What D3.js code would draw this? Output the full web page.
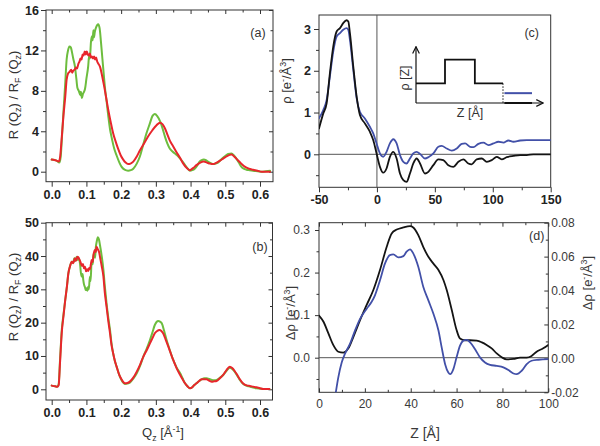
<!DOCTYPE html>
<html><head><meta charset="utf-8">
<script src="https://cdn.jsdelivr.net/npm/d3@7"></script>
<style>body{margin:0;background:#fff}svg{display:block}</style>
</head><body>
<svg id="chart" width="600" height="446"></svg>
<script>
// ---------------- DATA ----------------
// Panel (a): R(Qz)/RF(Qz) vs Qz  [Q, value]
const aGreen = [[0,1.2],[0.014,1.1],[0.022,0.9],[0.026,1.5],[0.029,3.1],[0.034,6.0],[0.039,8.75],[0.043,11.1],[0.047,12.0],[0.051,12.4],[0.055,12.3],[0.058,11.9],[0.062,11.2],[0.067,10.4],[0.071,9.2],[0.074,8.3],[0.078,8.0],[0.082,7.6],[0.084,7.9],[0.087,7.3],[0.09,7.7],[0.093,7.9],[0.096,8.2],[0.1,9.2],[0.105,10.4],[0.108,11.5],[0.11,11.2],[0.113,12.8],[0.116,13.4],[0.118,13.0],[0.12,14.0],[0.122,13.3],[0.124,13.8],[0.127,14.2],[0.131,14.5],[0.134,14.6],[0.138,14.2],[0.142,12.8],[0.146,11.2],[0.15,9.6],[0.155,7.8],[0.158,7.0],[0.163,5.5],[0.168,4.2],[0.172,3.5],[0.18,2.3],[0.187,1.6],[0.195,0.9],[0.201,0.5],[0.21,0.2],[0.22,0.1],[0.228,0.15],[0.235,0.3],[0.245,0.8],[0.254,1.5],[0.263,2.6],[0.273,3.8],[0.283,4.8],[0.29,5.5],[0.297,5.7],[0.304,5.5],[0.312,5.0],[0.32,4.2],[0.326,3.5],[0.333,2.8],[0.34,2.3],[0.348,2.0],[0.355,1.8],[0.362,1.6],[0.37,1.3],[0.377,1.0],[0.384,0.65],[0.392,0.3],[0.398,0.1],[0.405,0.15],[0.412,0.3],[0.42,0.65],[0.426,1.0],[0.432,1.15],[0.438,1.2],[0.444,1.15],[0.45,1.0],[0.458,0.85],[0.465,0.75],[0.472,0.8],[0.479,0.9],[0.488,1.2],[0.498,1.5],[0.508,1.75],[0.518,1.8],[0.525,1.6],[0.532,1.3],[0.539,0.9],[0.546,0.5],[0.553,0.3],[0.561,0.2],[0.57,0.15],[0.58,0.1],[0.593,0.05],[0.605,0.0],[0.617,0.05],[0.629,0.1]];
const aRed = [[0,1.2],[0.014,1.1],[0.02,1.0],[0.024,1.4],[0.029,3.4],[0.034,5.6],[0.039,7.4],[0.043,9.1],[0.047,9.7],[0.052,9.9],[0.056,10.1],[0.059,9.8],[0.062,10.0],[0.066,10.1],[0.07,10.3],[0.073,10.2],[0.077,10.7],[0.08,10.9],[0.083,11.2],[0.086,11.1],[0.089,11.6],[0.092,11.5],[0.095,11.9],[0.098,11.6],[0.101,11.9],[0.104,11.6],[0.107,11.5],[0.11,11.7],[0.113,11.3],[0.116,11.4],[0.119,11.2],[0.122,11.4],[0.125,11.1],[0.128,11.3],[0.131,10.9],[0.134,10.7],[0.139,10.4],[0.144,9.7],[0.148,9.0],[0.153,8.1],[0.158,7.1],[0.163,6.1],[0.17,4.9],[0.177,3.8],[0.185,2.9],[0.192,2.2],[0.199,1.6],[0.206,1.2],[0.213,0.9],[0.22,0.75],[0.227,0.8],[0.235,1.0],[0.245,1.5],[0.254,2.1],[0.266,2.8],[0.278,3.5],[0.29,4.1],[0.302,4.6],[0.312,4.85],[0.319,4.7],[0.326,4.3],[0.333,3.7],[0.34,3.1],[0.35,2.5],[0.36,1.9],[0.37,1.35],[0.379,0.8],[0.388,0.4],[0.398,0.15],[0.407,0.35],[0.417,0.65],[0.428,0.9],[0.438,1.0],[0.447,0.9],[0.456,0.8],[0.465,0.75],[0.475,0.9],[0.485,1.1],[0.494,1.3],[0.505,1.55],[0.518,1.7],[0.527,1.45],[0.537,1.1],[0.546,0.8],[0.556,0.5],[0.568,0.3],[0.58,0.2],[0.593,0.1],[0.605,0.0],[0.617,0.0],[0.629,0.0]];

// Panel (b)
const bGreen = [[0,1.1],[0.01,0.9],[0.016,0.8],[0.02,1.5],[0.024,8.8],[0.029,17.8],[0.034,22.5],[0.039,26.8],[0.044,31],[0.048,34.8],[0.053,37],[0.058,38.3],[0.062,38.0],[0.065,39.3],[0.068,38.5],[0.072,39.8],[0.075,38.8],[0.078,39.3],[0.082,37.3],[0.084,35.0],[0.087,33.8],[0.089,34.6],[0.091,32.8],[0.093,31.5],[0.096,30.6],[0.098,29.8],[0.101,30.3],[0.103,29.6],[0.105,30.8],[0.107,30.0],[0.11,33.8],[0.112,32.5],[0.115,38.3],[0.118,37.5],[0.12,40.0],[0.122,40.8],[0.125,39.5],[0.127,42.5],[0.13,44.5],[0.133,45.6],[0.136,45.0],[0.139,43.3],[0.144,40.0],[0.149,35.8],[0.153,31.0],[0.158,25.8],[0.163,21.5],[0.168,17.8],[0.172,14.0],[0.177,10.8],[0.182,8.5],[0.187,6.8],[0.194,4.5],[0.201,2.8],[0.206,2.0],[0.211,1.6],[0.218,1.7],[0.225,2.0],[0.235,3.2],[0.245,4.8],[0.255,7.2],[0.264,9.8],[0.274,12.3],[0.283,14.8],[0.29,17.0],[0.297,19.3],[0.302,20.2],[0.307,20.5],[0.312,20.3],[0.317,19.8],[0.324,17.5],[0.331,14.8],[0.34,11.8],[0.35,8.8],[0.36,6.5],[0.37,4.8],[0.377,3.3],[0.384,1.8],[0.391,0.9],[0.398,0.3],[0.405,0.6],[0.41,1.2],[0.417,1.8],[0.425,2.5],[0.432,3.0],[0.44,3.3],[0.446,3.3],[0.454,3.1],[0.461,2.8],[0.468,2.7],[0.475,2.8],[0.485,3.5],[0.494,4.3],[0.503,5.5],[0.513,6.5],[0.52,6.1],[0.527,5.3],[0.535,4.0],[0.542,2.8],[0.549,1.9],[0.556,1.3],[0.564,1.0],[0.571,0.8],[0.58,0.5],[0.59,0.3],[0.6,0.2],[0.61,0.1],[0.627,0.1]];
const bRed = [[0,1.1],[0.01,0.9],[0.016,0.8],[0.02,1.2],[0.024,8.0],[0.029,17.0],[0.034,22.0],[0.039,26.8],[0.044,31],[0.048,34.8],[0.053,37],[0.058,38.3],[0.062,37.8],[0.067,39.3],[0.07,38.6],[0.074,39.8],[0.077,39.6],[0.08,38.9],[0.083,38.2],[0.087,37.0],[0.09,37.6],[0.093,36.3],[0.096,36.8],[0.099,35.4],[0.102,36.0],[0.105,35.5],[0.108,36.4],[0.11,36.0],[0.113,37.6],[0.115,38.8],[0.118,38.2],[0.12,40.0],[0.124,41.8],[0.127,41.2],[0.129,42.8],[0.132,42.2],[0.134,41.8],[0.137,41.0],[0.139,39.8],[0.144,37.0],[0.149,33.8],[0.153,29.0],[0.158,24.8],[0.163,20.5],[0.168,16.8],[0.172,13.5],[0.177,10.8],[0.182,8.5],[0.187,6.8],[0.194,4.5],[0.201,3.0],[0.206,2.2],[0.211,1.8],[0.218,1.9],[0.225,2.3],[0.235,3.5],[0.245,5.3],[0.255,7.5],[0.264,9.8],[0.274,11.8],[0.283,13.8],[0.29,15.3],[0.297,16.8],[0.304,17.5],[0.31,17.8],[0.316,17.5],[0.321,16.8],[0.328,15.0],[0.336,12.8],[0.343,10.8],[0.35,8.8],[0.36,6.3],[0.37,4.3],[0.377,3.0],[0.384,1.8],[0.391,0.9],[0.398,0.3],[0.405,0.6],[0.41,1.2],[0.417,1.8],[0.425,2.5],[0.432,3.0],[0.44,3.0],[0.446,3.0],[0.454,2.6],[0.461,2.3],[0.468,2.4],[0.475,2.5],[0.485,3.4],[0.494,4.3],[0.503,5.7],[0.513,6.8],[0.52,6.4],[0.527,5.5],[0.535,4.2],[0.542,3.0],[0.549,2.0],[0.556,1.4],[0.564,1.1],[0.571,1.0],[0.58,0.8],[0.59,0.6],[0.6,0.3],[0.61,0.1],[0.627,0.1]];

// Panel (c): rho(Z)
const cBlack = [[-50,0.62],[-46.3,0.98],[-43.4,1.22],[-40.6,1.94],[-37.7,2.58],[-34.8,2.94],[-31.9,3.02],[-29.1,3.14],[-26.2,3.21],[-24.7,3.18],[-23.3,2.9],[-20.4,2.1],[-17.5,1.38],[-14.7,0.94],[-10.4,0.74],[-6.1,0.54],[-3.2,0.34],[-0.3,0.02],[2.6,-0.3],[5.4,-0.44],[8.3,-0.34],[11.2,-0.06],[14.1,0.06],[17.0,-0.1],[19.9,-0.46],[22.8,-0.62],[25.6,-0.66],[28.5,-0.46],[31.4,-0.22],[34.3,-0.1],[37.2,-0.22],[41.5,-0.46],[44.4,-0.42],[48.7,-0.26],[53.0,-0.12],[57.3,-0.14],[61.6,-0.26],[66.0,-0.3],[70.3,-0.18],[74.6,-0.12],[78.9,-0.22],[81.8,-0.24],[86.1,-0.12],[90.5,-0.1],[94.8,-0.18],[99.1,-0.14],[103.4,-0.06],[107.7,-0.12],[112.1,-0.07],[117.8,-0.04],[123.6,-0.02],[129.3,-0.02],[135,0],[150,0]];
const cBlue = [[-50,0.86],[-46.3,1.06],[-43.4,1.3],[-40.6,1.86],[-37.7,2.46],[-34.8,2.82],[-31.9,2.9],[-29.1,2.98],[-26.2,3.02],[-24.7,2.98],[-23.3,2.74],[-20.4,2.02],[-17.5,1.34],[-14.7,1.02],[-10.4,0.86],[-6.1,0.66],[-3.2,0.5],[-0.3,0.26],[2.6,0.02],[5.4,-0.06],[8.3,0.06],[11.2,0.26],[14.1,0.36],[17.0,0.26],[19.9,-0.02],[22.8,-0.18],[25.6,-0.22],[28.5,-0.1],[31.4,0.02],[34.3,0.06],[37.2,0.01],[41.5,-0.1],[44.4,-0.07],[48.7,0.02],[53.0,0.18],[55.9,0.2],[60.2,0.14],[64.6,0.09],[68.9,0.14],[73.2,0.25],[76.1,0.26],[80.4,0.18],[83.3,0.17],[87.6,0.25],[91.9,0.28],[96.3,0.22],[100.6,0.26],[104.9,0.3],[109.2,0.28],[113.5,0.33],[117.8,0.3],[123.6,0.33],[129.3,0.34],[135,0.34],[150,0.34]];

// Panel (d): delta rho(Z); black on left axis, blue on right axis
const dBlack = [[0,0.099],[1.9,0.085],[4.1,0.057],[6.2,0.03],[8.4,0.014],[10.6,0.012],[12.8,0.022],[15,0.049],[17.9,0.088],[20.8,0.124],[23.7,0.159],[26.6,0.206],[29.5,0.26],[31.7,0.292],[33.9,0.301],[36.8,0.306],[39.7,0.309],[41.1,0.306],[43.3,0.288],[45.5,0.26],[47.7,0.237],[49.9,0.221],[52.1,0.206],[54.3,0.182],[55.7,0.159],[57.9,0.112],[60,0.065],[61.5,0.045],[63.7,0.041],[65.9,0.041],[68.8,0.04],[71,0.036],[73.1,0.03],[75.3,0.022],[77.5,0.01],[79.7,0.001],[81.9,-0.004],[84.8,-0.003],[87.7,0],[90.6,0],[92.7,0.004],[94.9,0.014],[97.8,0.022],[100,0.03]];
const dBlue = [[7.0,-0.023],[8.4,-0.0113],[9.9,-0.0024],[11.3,0.0026],[13.5,0.0085],[15.7,0.0164],[17.9,0.0233],[20.8,0.0293],[22.9,0.0332],[24.4,0.0372],[26.6,0.0461],[28.8,0.056],[30.9,0.0609],[32.4,0.0613],[34.6,0.0595],[36.8,0.0603],[38.2,0.0629],[39.7,0.0643],[41.1,0.0619],[43.3,0.054],[45.5,0.0421],[47.7,0.0342],[49.9,0.0263],[52.1,0.0164],[53.5,0.0065],[55,-0.0034],[56.4,-0.0083],[57.2,-0.0093],[58.6,-0.0063],[60,0.0006],[61.5,0.0075],[63,0.0105],[64.4,0.0109],[65.9,0.0095],[68,0.0055],[70.2,0.0006],[72.4,-0.0024],[74.6,-0.0038],[77.5,-0.0044],[80.4,-0.0053],[82.6,-0.0069],[84.8,-0.0089],[86.2,-0.0093],[88.4,-0.0073],[90.6,-0.0034],[92.7,-0.0014],[95.7,-0.0008],[100,-0.0004]];

// Inset schematic in (c) (arbitrary units)
const insetStep = [[0,1],[1,1],[1,2.2],[2.03,2.2],[2.03,1],[3,1]];
const insetDrop = [[3,1],[3,0]];
const insetBlue = [[3.05,0.5],[4,0.5]];
const insetBlack = [[3.05,0],[4,0]];

// Tick values
const qTicks = [0,0.1,0.2,0.3,0.4,0.5,0.6];
const qMinor = [0.05,0.15,0.25,0.35,0.45,0.55];
const aTicks = [0,4,8,12,16], aMinor = [2,6,10,14];
const bTicks = [0,10,20,30,40,50], bMinor = [5,15,25,35,45];
const cXTicks = [-50,0,50,100,150], cXMinor = [-25,25,75,125];
const cYTicks = [0,1,2,3], cYMinor = [-0.5,0.5,1.5,2.5];
const dXTicks = [0,20,40,60,80,100], dXMinor = [10,30,50,70,90];
const dLTicks = [0,0.1,0.2,0.3], dLMinor = [-0.05,0.05,0.15,0.25];
const dRTicks = [-0.02,0,0.02,0.04,0.06,0.08], dRMinor = [-0.01,0.01,0.03,0.05,0.07];

// ---------------- DRAW ----------------
const FONT = "'Liberation Sans', Arial, Helvetica, sans-serif";
const GREEN = "#6dbd3e", RED = "#e8262c", BLACK = "#141414", BLUE = "#4250a8";
const svg = d3.select("#chart");
svg.append("rect").attr("width",600).attr("height",446).attr("fill","#fff");

function styleAxis(g, opts){
  g.select(".domain").remove();
  g.selectAll("line").attr("stroke","#333").attr("stroke-width",1);
  g.selectAll("text").attr("font-family",FONT).attr("font-size",opts.fs||12)
    .attr("font-weight",opts.bold?"bold":"normal").attr("fill",opts.color||"#222");
}
function ax(gen, tr, opts){
  const g = svg.append("g").attr("transform",tr).call(gen);
  styleAxis(g, opts||{});
  return g;
}
function frame(l,r,t,b){
  svg.append("rect").attr("x",l).attr("y",t).attr("width",r-l).attr("height",b-t)
    .attr("fill","none").attr("stroke","#333").attr("stroke-width",1);
}
let clipId = 0;
function clip(l,r,t,b){
  const id = "clip"+(clipId++);
  svg.append("clipPath").attr("id",id).append("rect").attr("x",l).attr("y",t).attr("width",r-l).attr("height",b-t);
  return "url(#"+id+")";
}
function curve(data, x, y, color, w, cp){
  svg.append("path").datum(data).attr("clip-path",cp)
    .attr("d", d3.line().x(d=>x(d[0])).y(d=>y(d[1])).curve(d3.curveMonotoneX))
    .attr("fill","none").attr("stroke",color).attr("stroke-width",w)
    .attr("stroke-linejoin","round").attr("stroke-linecap","round");
}
function rich(sel, parts, size){
  let cur = 0;
  parts.forEach(([t,k])=>{
    const off = k===1 ? size*0.3 : (k===2 ? -size*0.38 : 0);
    sel.append("tspan").attr("dy", off-cur).attr("font-size", k? size*0.68 : size).text(t);
    cur = off;
  });
}
function label(x,y,parts,size,opts){
  opts = opts||{};
  const t = svg.append("text").attr("transform",`translate(${x},${y})`+(opts.rot?" rotate(-90)":""))
    .attr("text-anchor","middle").attr("font-family",FONT).attr("font-size",size)
    .attr("fill",opts.color||"#333").attr("font-weight",opts.bold?"bold":"normal");
  rich(t, parts, size);
  return t;
}
const hy = f => (v => f(v).replace("\u2212","-"));
const f1 = hy(d3.format(".1f")), f2 = hy(d3.format(".2f")), f0 = hy(d3.format("d"));
const none = ()=>"";

// ---- Panel (a)
{
  const L=46,R=273,T=10,B=181.7;
  const x = d3.scaleLinear([0,0.6],[51.7,260]);
  const y = d3.scaleLinear([0,16],[171.7,10]);
  const o = {bold:true,fs:12.5,color:"#222"};
  ax(d3.axisBottom(x).tickValues(qTicks).tickSize(5).tickPadding(3).tickFormat(f1),`translate(0,${B})`,o);
  ax(d3.axisBottom(x).tickValues(qMinor).tickSize(3).tickFormat(none),`translate(0,${B})`);
  ax(d3.axisTop(x).tickValues(qTicks).tickSize(-4).tickFormat(none),`translate(0,${T})`);
  ax(d3.axisTop(x).tickValues(qMinor).tickSize(-2.5).tickFormat(none),`translate(0,${T})`);
  ax(d3.axisLeft(y).tickValues(aTicks).tickSize(5).tickPadding(2).tickFormat(f0),`translate(${L},0)`,o);
  ax(d3.axisLeft(y).tickValues(aMinor).tickSize(3).tickFormat(none),`translate(${L},0)`);
  ax(d3.axisRight(y).tickValues(aTicks).tickSize(-4).tickFormat(none),`translate(${R},0)`);
  ax(d3.axisRight(y).tickValues(aMinor).tickSize(-2.5).tickFormat(none),`translate(${R},0)`);
  frame(L,R,T,B);
  const cp = clip(L,R,T,B);
  curve(aGreen,x,y,GREEN,2,cp);
  curve(aRed,x,y,RED,2,cp);
  label(258,37,[["(a)",0]],12.5);
  label(17.5,95,[["R (Q",0],["z",1],[") / R",0],["F",1],[" (Q",0],["z",1],[")",0]],13,{rot:true});
}
// ---- Panel (b)
{
  const L=46,R=272.5,T=222.7,B=400;
  const x = d3.scaleLinear([0,0.6],[51.7,260]);
  const y = d3.scaleLinear([0,50],[389.3,222.7]);
  const o = {bold:true,fs:12.5,color:"#222"};
  ax(d3.axisBottom(x).tickValues(qTicks).tickSize(5).tickPadding(3).tickFormat(f1),`translate(0,${B})`,o);
  ax(d3.axisBottom(x).tickValues(qMinor).tickSize(3).tickFormat(none),`translate(0,${B})`);
  ax(d3.axisTop(x).tickValues(qTicks).tickSize(-4).tickFormat(none),`translate(0,${T})`);
  ax(d3.axisTop(x).tickValues(qMinor).tickSize(-2.5).tickFormat(none),`translate(0,${T})`);
  ax(d3.axisLeft(y).tickValues(bTicks).tickSize(5).tickPadding(2).tickFormat(f0),`translate(${L},0)`,o);
  ax(d3.axisLeft(y).tickValues(bMinor).tickSize(3).tickFormat(none),`translate(${L},0)`);
  ax(d3.axisRight(y).tickValues(bTicks).tickSize(-4).tickFormat(none),`translate(${R},0)`);
  ax(d3.axisRight(y).tickValues(bMinor).tickSize(-2.5).tickFormat(none),`translate(${R},0)`);
  frame(L,R,T,B);
  const cp = clip(L,R,T,B);
  curve(bGreen,x,y,GREEN,2,cp);
  curve(bRed,x,y,RED,2,cp);
  label(260,251,[["(b)",0]],12.5);
  label(17.5,297,[["R (Q",0],["z",1],[") / R",0],["F",1],[" (Q",0],["z",1],[")",0]],13,{rot:true});
  label(163,437,[["Q",0],["z",1],[" [Å",0],["-1",2],["]",0]],13);
}
// ---- Panel (c)
{
  const L=319,R=550.7,T=15,B=187.3;
  const x = d3.scaleLinear([-50,150],[319,550.7]);
  const y = d3.scaleLinear([0,3],[154.3,29]);
  const o = {bold:true,fs:12.5,color:"#222"};
  ax(d3.axisBottom(x).tickValues(cXTicks).tickSize(5).tickPadding(3).tickFormat(f0),`translate(0,${B})`,o);
  ax(d3.axisBottom(x).tickValues(cXMinor).tickSize(3).tickFormat(none),`translate(0,${B})`);
  ax(d3.axisLeft(y).tickValues(cYTicks).tickSize(5).tickPadding(3).tickFormat(f0),`translate(${L},0)`,o);
  ax(d3.axisLeft(y).tickValues(cYMinor).tickSize(3).tickFormat(none),`translate(${L},0)`);
  frame(L,R,T,B);
  const cp = clip(L,R,T,B);
  svg.append("line").attr("x1",L).attr("x2",R).attr("y1",y(0)).attr("y2",y(0)).attr("stroke","#555").attr("stroke-width",1);
  svg.append("line").attr("x1",x(0)).attr("x2",x(0)).attr("y1",T).attr("y2",B).attr("stroke","#555").attr("stroke-width",1);
  curve(cBlue,x,y,BLUE,1.8,cp);
  curve(cBlack,x,y,BLACK,1.8,cp);
  label(531.7,37,[["(c)",0]],12.5);
  label(291,81,[["ρ [e",0],["-",2],["/Å",0],["3",2],["]",0]],13,{rot:true});
  // inset schematic
  const ix = d3.scaleLinear([0,4.38],[416,543]);
  const iy = d3.scaleLinear([0,2.86],[103,46.7]);
  const ln = d3.line().x(d=>ix(d[0])).y(d=>iy(d[1]));
  svg.append("defs").append("marker").attr("id","arr").attr("viewBox","0 0 10 10").attr("refX",9).attr("refY",5)
    .attr("markerWidth",7).attr("markerHeight",7).attr("orient","auto")
    .append("path").attr("d","M1,1 L9,5 L1,9").attr("fill","none").attr("stroke","#111").attr("stroke-width",1.4);
  svg.append("path").attr("d",ln([[0,0],[0,2.86]])).attr("stroke","#111").attr("stroke-width",1.2).attr("marker-end","url(#arr)");
  svg.append("path").attr("d",ln([[0,0],[4.38,0]])).attr("stroke","#111").attr("stroke-width",1.2).attr("marker-end","url(#arr)");
  svg.append("path").attr("d",ln(insetStep)).attr("fill","none").attr("stroke","#111").attr("stroke-width",1.8);
  svg.append("path").attr("d",ln(insetDrop)).attr("fill","none").attr("stroke","#111").attr("stroke-width",1).attr("stroke-dasharray","1.5,1.5");
  svg.append("path").attr("d",ln(insetBlue)).attr("fill","none").attr("stroke",BLUE).attr("stroke-width",2);
  svg.append("path").attr("d",ln(insetBlack)).attr("fill","none").attr("stroke","#111").attr("stroke-width",2);
  label(409,78,[["ρ [Z]",0]],12.5,{rot:true});
  label(470,117,[["Z [Å]",0]],12.5);
}
// ---- Panel (d)
{
  const L=319,R=548.3,T=222.7,B=392.3;
  const x = d3.scaleLinear([0,100],[319,548.3]);
  const yl = d3.scaleLinear([0,0.3],[357.7,230]);
  const yr = d3.scaleLinear([-0.02,0.08],[392.3,222.7]);
  const o = {bold:false,fs:12,color:"#3a3a3a"};
  ax(d3.axisBottom(x).tickValues(dXTicks).tickSize(-4).tickPadding(7).tickFormat(f0),`translate(0,${B})`,o);
  ax(d3.axisBottom(x).tickValues(dXMinor).tickSize(-2.5).tickFormat(none),`translate(0,${B})`);
  ax(d3.axisTop(x).tickValues(dXTicks).tickSize(-4).tickFormat(none),`translate(0,${T})`);
  ax(d3.axisTop(x).tickValues(dXMinor).tickSize(-2.5).tickFormat(none),`translate(0,${T})`);
  ax(d3.axisLeft(yl).tickValues(dLTicks).tickSize(4).tickPadding(5).tickFormat(f1),`translate(${L},0)`,o);
  ax(d3.axisLeft(yl).tickValues(dLMinor).tickSize(2.5).tickFormat(none),`translate(${L},0)`);
  ax(d3.axisRight(yr).tickValues(dRTicks).tickSize(-4).tickPadding(3).tickFormat(f2),`translate(${R},0)`,o);
  ax(d3.axisRight(yr).tickValues(dRMinor).tickSize(-2.5).tickFormat(none),`translate(${R},0)`);
  frame(L,R,T,B);
  const cp = clip(L,R,T,B);
  svg.append("line").attr("x1",L).attr("x2",R).attr("y1",yl(0)).attr("y2",yl(0)).attr("stroke","#555").attr("stroke-width",1);
  curve(dBlack,x,yl,BLACK,1.8,cp);
  curve(dBlue,x,yr,BLUE,1.8,cp);
  label(536.7,240,[["(d)",0]],12.5,{color:"#333"});
  label(295,313,[["Δρ [e",0],["-",2],["/Å",0],["3",2],["]",0]],13,{rot:true,color:"#3a3a3a"});
  label(592,283,[["Δρ [e",0],["-",2],["/Å",0],["3",2],["]",0]],13,{rot:true,color:"#3a3a3a"});
  label(425,438,[["Z [Å]",0]],14,{color:"#3a3a3a"});
}
</script>
</body></html>
